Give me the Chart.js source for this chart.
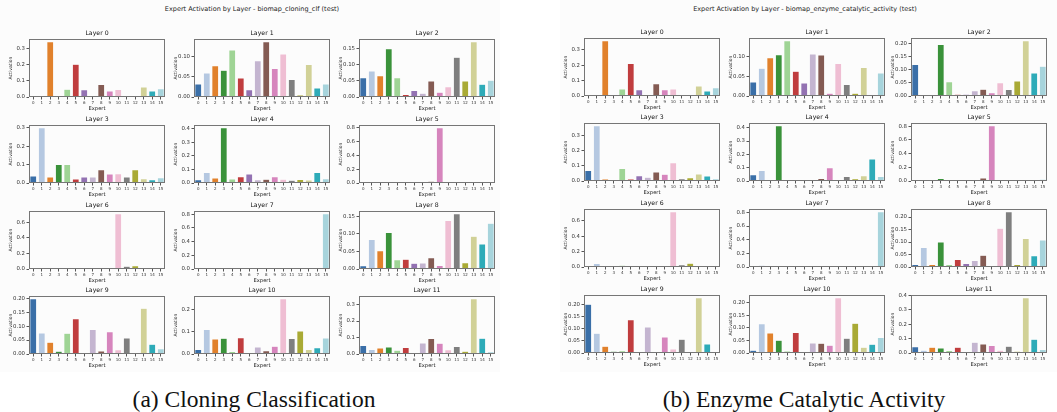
<!DOCTYPE html>
<html>
<head>
<meta charset="utf-8">
<script src="https://cdn.jsdelivr.net/npm/chart.js@4.4.1/dist/chart.umd.min.js"></script>
<style>
    html, body { margin: 0; padding: 0; background: #fff; }
    body { width: 1057px; height: 412px; position: relative; overflow: hidden;
           font-family: "DejaVu Sans", sans-serif; }
    .panel-bg { position: absolute; top: 0; height: 372px; background: #fcfcfc; }
    .suptitle { position: absolute; top: 5px; font-size: 6.5px; line-height: 8px; color: #222;
                white-space: nowrap; transform: translateX(-50%); }
    .caption { position: absolute; top: 386px; font-family: "Liberation Serif", "Times New Roman", serif;
               font-size: 23.5px; line-height: 26px; color: #111; white-space: nowrap; transform: translateX(-50%); }
    .sub { position: absolute; }
</style>
</head>
<body>
<div class="panel-bg" style="left:0;width:500px"></div>
<div class="panel-bg" style="left:560px;width:497px"></div>
<div class="suptitle" style="left:252px">Expert Activation by Layer - biomap_cloning_clf (test)</div>
<div class="suptitle" style="left:805px">Expert Activation by Layer - biomap_enzyme_catalytic_activity (test)</div>
<div class="caption" style="left:254px">(a) Cloning Classification</div>
<div class="caption" style="left:804px">(b) Enzyme Catalytic Activity</div>

<script>
(function () {
    "use strict";

    // --- data ---
    const EXPERTS = ["0", "1", "2", "3", "4", "5", "6", "7", "8", "9", "10", "11", "12", "13", "14", "15"];
    const LAYERS = ["Layer 0", "Layer 1", "Layer 2", "Layer 3", "Layer 4", "Layer 5",
                    "Layer 6", "Layer 7", "Layer 8", "Layer 9", "Layer 10", "Layer 11"];

    const CLONING = [
        [0.006, 0.002, 0.345, 0.000, 0.048, 0.205, 0.045, 0.000, 0.078, 0.038, 0.047, 0.000, 0.007, 0.063, 0.038, 0.052],
        [0.032, 0.059, 0.077, 0.066, 0.116, 0.047, 0.018, 0.089, 0.136, 0.070, 0.106, 0.043, 0.005, 0.080, 0.022, 0.032],
        [0.060, 0.081, 0.066, 0.150, 0.060, 0.008, 0.020, 0.012, 0.050, 0.015, 0.032, 0.124, 0.050, 0.172, 0.040, 0.052],
        [0.038, 0.300, 0.032, 0.100, 0.100, 0.022, 0.032, 0.032, 0.072, 0.049, 0.050, 0.033, 0.072, 0.023, 0.018, 0.028],
        [0.024, 0.078, 0.037, 0.409, 0.030, 0.047, 0.066, 0.024, 0.028, 0.046, 0.028, 0.020, 0.025, 0.022, 0.078, 0.032],
        [0.010, 0.010, 0.012, 0.010, 0.008, 0.010, 0.010, 0.005, 0.025, 0.795, 0.008, 0.008, 0.010, 0.008, 0.005, 0.020],
        [0.020, 0.015, 0.008, 0.015, 0.018, 0.006, 0.008, 0.002, 0.010, 0.018, 0.710, 0.035, 0.042, 0.008, 0.006, 0.008],
        [0.002, 0.015, 0.010, 0.008, 0.004, 0.008, 0.015, 0.003, 0.004, 0.018, 0.004, 0.008, 0.012, 0.014, 0.003, 0.805],
        [0.009, 0.084, 0.052, 0.104, 0.026, 0.028, 0.016, 0.017, 0.032, 0.010, 0.138, 0.157, 0.018, 0.093, 0.071, 0.130],
        [0.198, 0.075, 0.042, 0.010, 0.074, 0.126, 0.002, 0.088, 0.011, 0.080, 0.015, 0.057, 0.002, 0.164, 0.035, 0.019],
        [0.020, 0.111, 0.068, 0.071, 0.011, 0.073, 0.006, 0.032, 0.015, 0.035, 0.250, 0.070, 0.104, 0.020, 0.028, 0.072],
        [0.052, 0.028, 0.036, 0.042, 0.022, 0.040, 0.000, 0.066, 0.094, 0.065, 0.026, 0.046, 0.017, 0.335, 0.096, 0.014],
    ];

    const ENZYME = [
        [0.005, 0.001, 0.358, 0.000, 0.045, 0.210, 0.040, 0.000, 0.080, 0.040, 0.046, 0.003, 0.006, 0.065, 0.033, 0.053],
        [0.035, 0.070, 0.096, 0.104, 0.139, 0.062, 0.033, 0.106, 0.103, 0.007, 0.082, 0.029, 0.007, 0.072, 0.003, 0.058],
        [0.120, 0.005, 0.003, 0.196, 0.054, 0.007, 0.007, 0.020, 0.026, 0.012, 0.050, 0.025, 0.057, 0.210, 0.087, 0.113],
        [0.070, 0.365, 0.013, 0.010, 0.082, 0.013, 0.035, 0.025, 0.060, 0.045, 0.120, 0.015, 0.022, 0.046, 0.033, 0.015],
        [0.047, 0.078, 0.010, 0.415, 0.012, 0.007, 0.010, 0.003, 0.018, 0.100, 0.001, 0.033, 0.017, 0.040, 0.165, 0.033],
        [0.004, 0.002, 0.002, 0.035, 0.004, 0.004, 0.003, 0.002, 0.045, 0.805, 0.010, 0.005, 0.002, 0.004, 0.010, 0.025],
        [0.020, 0.045, 0.003, 0.013, 0.022, 0.005, 0.006, 0.003, 0.003, 0.018, 0.720, 0.030, 0.048, 0.002, 0.003, 0.015],
        [0.002, 0.025, 0.012, 0.006, 0.006, 0.006, 0.018, 0.002, 0.003, 0.004, 0.003, 0.020, 0.006, 0.018, 0.008, 0.810],
        [0.010, 0.078, 0.010, 0.100, 0.010, 0.030, 0.014, 0.026, 0.047, 0.006, 0.155, 0.221, 0.010, 0.114, 0.045, 0.108],
        [0.201, 0.082, 0.028, 0.007, 0.009, 0.137, 0.002, 0.107, 0.006, 0.066, 0.017, 0.057, 0.001, 0.228, 0.037, 0.002],
        [0.011, 0.116, 0.080, 0.051, 0.008, 0.082, 0.006, 0.040, 0.039, 0.031, 0.220, 0.059, 0.118, 0.023, 0.035, 0.062],
        [0.043, 0.020, 0.040, 0.035, 0.018, 0.040, 0.000, 0.075, 0.063, 0.052, 0.020, 0.047, 0.012, 0.385, 0.095, 0.025],
    ];

    const T1 = ["0.0", "0.1", "0.2", "0.3"];
    const T1B = ["0.0", "0.1", "0.2"];
    const T1C = ["0.0", "0.1", "0.2", "0.3", "0.4"];
    const T2 = ["0.0", "0.2", "0.4", "0.6"];
    const T2B = ["0.0", "0.2", "0.4", "0.6", "0.8"];
    const T5 = ["0.00", "0.05", "0.10"];
    const T5B = ["0.00", "0.05", "0.10", "0.15"];
    const T5C = ["0.00", "0.05", "0.10", "0.15", "0.20"];

    const CLONING_YTICKS = [T1, T5, T5B, T1, T1C, T2B, T2, T2B, T5B, T5C, T1B, T1];
    const ENZYME_YTICKS = [T1, T5, T5C, T1, T1C, T2B, T2, T2B, T5C, T5C, T5C, T1C];

    // tab20 minus four light shades, desaturated like seaborn (0.75)
    const COLORS = ["#3a6fa8", "#b5c8e1", "#e1812c", "#3a923a", "#9fd495", "#c03d3e", "#9372b2", "#c4b5d0",
                    "#845b53", "#d685bd", "#efbed3", "#7f7f7f", "#a9aa35", "#d1d197", "#2eabb8", "#a7d4dc"];

    // --- layout (plot-area boxes of each grid) ---
    const PLOT_W = 136, PLOT_H = 58;
    const Y_AXIS_W = 22, TITLE_H = 11, X_AXIS_H = 15, PAD_R = 3;
    const PANELS = [
        { data: CLONING, ticks: CLONING_YTICKS, cols: [29, 194, 359], rows: [39, 125, 211, 296] },
        { data: ENZYME, ticks: ENZYME_YTICKS, cols: [584, 749, 911], rows: [38, 123, 209, 295] },
    ];

    const FONT = "DejaVu Sans";

    // matplotlib-like box of spines round the plot area
    const frame = {
        id: "frame",
        afterDatasetsDraw(chart) {
            const { ctx, chartArea: a } = chart;
            ctx.save();
            ctx.strokeStyle = "#767676";
            ctx.lineWidth = 1;
            ctx.strokeRect(a.left + 0.5, a.top + 0.5, a.right - a.left - 1, a.bottom - a.top - 1);
            ctx.restore();
        },
    };

    function makeChart(left, top, title, values, tickLabels) {
        const wrap = document.createElement("div");
        wrap.className = "sub";
        wrap.style.left = (left - Y_AXIS_W) + "px";
        wrap.style.top = (top - TITLE_H) + "px";
        const canvas = document.createElement("canvas");
        canvas.width = Y_AXIS_W + PLOT_W + PAD_R;
        canvas.height = TITLE_H + PLOT_H + X_AXIS_H;
        wrap.appendChild(canvas);
        document.body.appendChild(wrap);

        const yMax = Math.max(...values) * 1.05;
        const tickValues = tickLabels.map(Number);

        new Chart(canvas.getContext("2d"), {
            type: "bar",
            data: {
                labels: EXPERTS,
                datasets: [{
                    data: values,
                    backgroundColor: COLORS,
                    borderColor: "rgba(255,255,255,0.7)",
                    borderWidth: 0.5,
                    barPercentage: 0.8,
                    categoryPercentage: 1.0,
                }],
            },
            options: {
                responsive: false,
                animation: false,
                devicePixelRatio: 1,
                layout: { padding: { left: 0, right: PAD_R, top: 0, bottom: 0 } },
                plugins: {
                    legend: { display: false },
                    tooltip: { enabled: false },
                    title: {
                        display: true,
                        text: title,
                        fullSize: false,
                        color: "#111",
                        font: { family: FONT, size: 6.2, weight: "normal", lineHeight: 8 / 6.2 },
                        padding: { top: 1, bottom: 2 },
                    },
                },
                scales: {
                    x: {
                        offset: true,
                        grid: { display: true, drawOnChartArea: false, tickLength: 2.5, color: "#555", offset: false },
                        border: { display: false },
                        ticks: { font: { family: FONT, size: 4 }, color: "#333", padding: 1,
                                 autoSkip: false, maxRotation: 0 },
                        title: { display: true, text: "Expert", color: "#222",
                                 font: { family: FONT, size: 5.2 }, padding: 0 },
                        afterFit(axis) { axis.height = X_AXIS_H; },
                    },
                    y: {
                        min: 0,
                        max: yMax,
                        grid: { display: true, drawOnChartArea: false, tickLength: 2.5, color: "#555" },
                        border: { display: false },
                        ticks: {
                            font: { family: FONT, size: 5.4 }, color: "#333", padding: 1.5,
                            callback: (v, i) => tickLabels[i],
                        },
                        afterBuildTicks(axis) { axis.ticks = tickValues.map(v => ({ value: v })); },
                        title: { display: true, text: "Activation", color: "#222",
                                 font: { family: FONT, size: 4.6 }, padding: { top: 1, bottom: 0 } },
                        afterFit(axis) { axis.width = Y_AXIS_W; },
                    },
                },
            },
            plugins: [frame],
        });
    }

    for (const p of PANELS) {
        p.data.forEach((values, i) => {
            const col = p.cols[i % 3];
            const row = p.rows[Math.floor(i / 3)];
            makeChart(col, row, LAYERS[i], values, p.ticks[i]);
        });
    }
})();
</script>
</body>
</html>
